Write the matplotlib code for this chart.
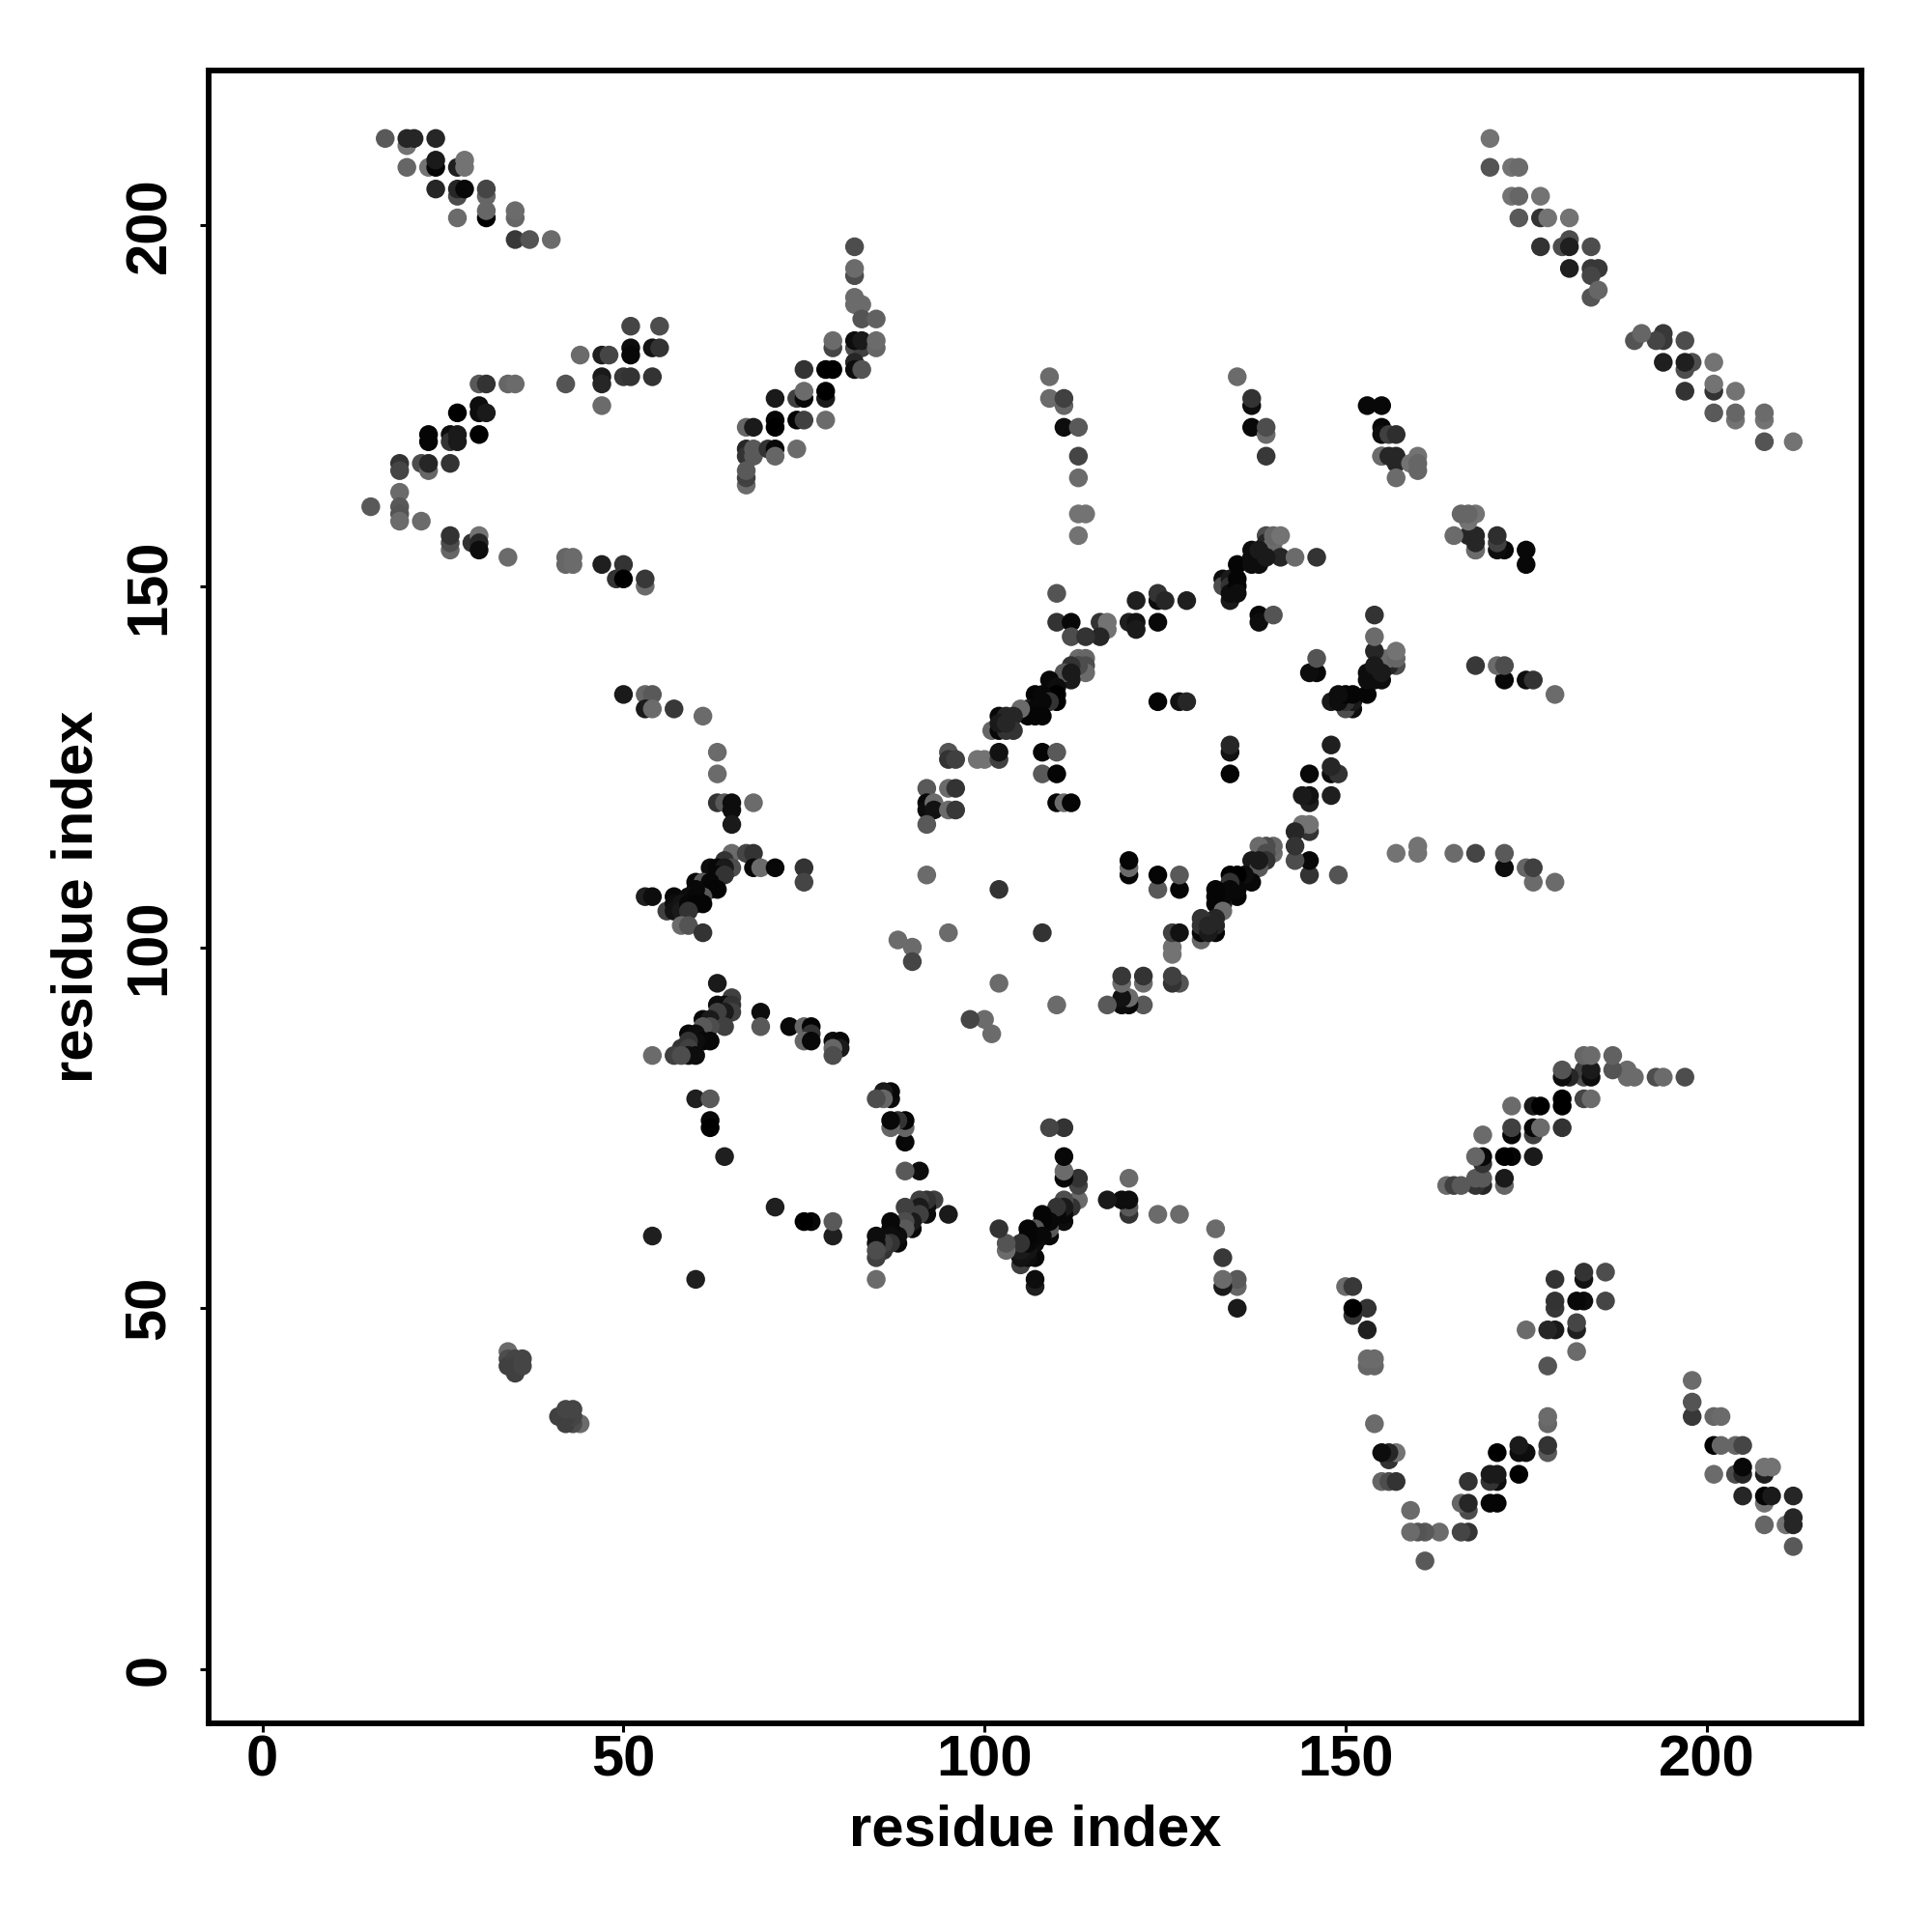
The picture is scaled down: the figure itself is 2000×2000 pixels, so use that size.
import matplotlib
matplotlib.use("Agg")
import matplotlib.pyplot as plt
import numpy as np

res_a = [
 17,20,20,21,24,20,23,24,24,27,28,28,24,27,27,28,31,31,31,31,27,35,35,35,37,40,
 51,55,44,47,48,51,51,54,55,30,31,34,35,42,47,47,50,51,54,47,
 27,30,30,31,23,23,26,26,27,27,30,19,19,22,23,23,26,
 19,19,19,19,15,22,26,26,26,29,30,30,30,34,42,42,43,43,47,50,49,50,53,53,
 82,82,82,82,82,83,83,85,79,79,82,83,82,83,85,85,75,78,79,82,82,83,
 71,74,75,75,78,78,71,71,74,75,78,67,68,67,67,68,68,70,71,71,74,67,67,67,
 109,109,111,111,111,113,113,113,113,114,113,110,110,112,116,117,117,116,112,114,
 121,124,124,125,128,120,121,121,124,135,137,137,137,139,139,139,
 133,133,134,134,134,134,135,135,135,135,137,137,138,138,137,139,139,140,140,140,141,141,143,146,138,139,
 138,138,140,153,155,155,155,155,156,157,155,156,157,157,157,159,160,160,160,
 113,114,114,114,113,113,112,112,111,112,109,110,110,110,107,108,109,108,106,107,108,107,106,105,
 102,103,104,101,102,103,104,102,103,95,95,96,99,100,102,102,108,110,108,110,
 92,95,96,92,92,93,93,95,96,92,110,111,112,124,127,128,92,102,
 50,53,54,53,54,57,61,63,63,63,64,65,65,65,68,65,67,68,64,65,68,69,71,75,75,
 62,63,64,63,64,60,61,62,63,62,61,60,53,54,57,59,60,56,57,57,58,58,59,60,61,59,58,59,61,88,90,90,95,
 63,65,64,63,65,65,64,63,61,62,64,62,61,59,60,61,62,60,59,58,59,59,60,57,58,54,69,69,
 73,75,76,76,75,76,79,80,80,79,79,60,62,62,62,64,54,
 170,170,173,174,173,174,177,174,177,178,181,177,180,181,181,184,181,184,185,184,184,185,
 34,34,34,35,35,35,36,36,
]
res_b = [
 212,211,212,212,212,208,208,208,209,208,209,208,205,204,205,205,204,205,201,202,201,201,202,198,198,198,
 186,186,182,182,182,183,182,183,183,178,178,178,178,178,179,178,179,179,179,175,
 174,175,174,174,171,170,171,170,171,170,171,167,166,167,166,167,167,
 163,161,160,159,161,159,155,156,157,156,157,156,155,154,154,153,154,153,153,153,151,151,150,151,
 197,193,194,189,190,189,187,187,183,184,183,183,184,184,183,184,180,180,180,181,180,180,
 176,176,176,177,176,177,173,172,173,173,173,172,172,169,168,169,168,169,169,168,169,164,165,166,
 179,176,175,176,172,172,168,165,160,160,157,149,145,145,145,145,144,143,143,143,
 148,148,149,148,148,145,145,144,145,179,175,176,172,171,172,168,
 151,150,151,150,148,149,151,153,150,149,155,154,154,153,153,157,156,155,156,157,157,154,154,154,155,154,
 146,145,146,175,175,172,171,168,171,171,168,168,168,167,165,167,168,167,166,
 140,140,139,138,139,139,139,137,138,138,137,136,135,134,135,135,134,134,133,133,132,132,132,133,
 132,132,132,130,130,130,130,131,131,127,126,126,126,126,126,127,127,127,124,124,
 122,122,122,120,119,120,119,119,119,117,120,120,120,134,134,134,110,108,
 135,135,135,133,133,133,132,127,124,120,120,120,119,117,120,113,113,113,112,111,111,111,111,111,109,
 111,111,111,110,110,109,109,109,108,108,107,108,107,107,107,107,107,105,106,105,106,105,106,106,106,105,103,103,102,101,100,98,102,
 95,93,92,92,92,91,91,91,90,90,89,89,89,88,88,87,87,87,87,86,86,85,85,85,85,85,91,89,
 89,89,89,88,87,87,87,87,86,86,85,79,79,76,75,71,60,
 212,208,208,208,204,204,204,201,201,201,201,197,197,198,197,197,194,194,194,193,190,191,
 44,43,42,43,42,41,43,42,
]
shade = [
 .35,.45,.15,.15,.15,.40,.45,.02,.10,.12,.45,.45,.15,.30,.15,.03,.40,.27,.00,.40,.42,.40,.42,.22,.33,.42,
 .27,.30,.42,.12,.27,.05,.03,.07,.20,.35,.20,.40,.42,.33,.10,.15,.22,.20,.20,.42,
 .00,.05,.05,.10,.02,.02,.05,.20,.10,.10,.00,.20,.27,.30,.40,.15,.20,
 .42,.35,.33,.42,.35,.42,.40,.30,.20,.20,.45,.15,.05,.42,.40,.40,.42,.42,.12,.20,.20,.00,.42,.22,
 .30,.30,.42,.42,.42,.42,.33,.38,.27,.42,.30,.25,.05,.10,.40,.42,.20,.00,.00,.15,.05,.33,
 .10,.25,.03,.42,.10,.00,.02,.00,.02,.25,.42,.40,.10,.15,.20,.35,.35,.20,.03,.40,.42,.42,.25,.35,
 .42,.42,.40,.25,.05,.35,.27,.42,.45,.45,.45,.33,.20,.03,.20,.45,.45,.15,.30,.20,
 .12,.05,.20,.15,.12,.12,.07,.10,.03,.42,.05,.20,.03,.42,.30,.22,
 .05,.30,.10,.20,.10,.05,.02,.02,.02,.05,.05,.05,.05,.05,.05,.30,.15,.45,.42,.40,.45,.15,.42,.20,.10,.10,
 .03,.05,.33,.03,.03,.03,.05,.35,.25,.18,.42,.15,.15,.15,.42,.45,.45,.40,.40,
 .42,.40,.30,.42,.30,.30,.20,.10,.35,.10,.03,.05,.00,.00,.02,.03,.20,.03,.10,.03,.02,.02,.02,.42,
 .03,.15,.15,.40,.03,.20,.20,.10,.15,.33,.20,.25,.45,.45,.25,.07,.02,.35,.35,.02,
 .35,.42,.20,.03,.05,.42,.07,.42,.22,.35,.02,.42,.02,.02,.07,.15,.42,.20,
 .10,.40,.35,.10,.42,.22,.42,.42,.42,.20,.35,.05,.05,.10,.42,.42,.27,.20,.20,.30,.03,.42,.03,.20,.27,
 .05,.03,.10,.03,.20,.03,.35,.03,.02,.02,.35,.03,.12,.05,.03,.05,.03,.25,.05,.07,.08,.10,.03,.02,.02,.20,.42,.33,.20,.42,.42,.27,.42,
 .10,.25,.05,.05,.20,.25,.10,.25,.03,.10,.25,.30,.35,.03,.05,.03,.03,.05,.20,.20,.25,.07,.05,.25,.30,.42,.05,.35,
 .03,.40,.02,.20,.40,.03,.05,.03,.10,.40,.30,.12,.35,.03,.00,.12,.12,
 .45,.33,.45,.42,.45,.40,.45,.35,.20,.45,.45,.20,.30,.30,.12,.30,.12,.22,.22,.27,.33,.40,
 .42,.30,.25,.27,.25,.25,.27,.27,
]
xticks = [0, 50, 100, 150, 200]
yticks = [0, 50, 100, 150, 200]
axis_label = "residue index"

assert len(res_a) == len(res_b) == len(shade), (len(res_a), len(res_b), len(shade))

plt.rcParams['font.family'] = ['Liberation Sans', 'DejaVu Sans']
plt.rcParams['font.weight'] = 'bold'

fig = plt.figure(figsize=(10, 10), dpi=200, facecolor='white')
ax = fig.add_axes([216/2000, 1-1784/2000, (1927-216)/2000, (1784-73)/2000])

a = np.array(res_a); b = np.array(res_b); g = np.array(shade)
x = np.concatenate([a, b]); y = np.concatenate([b, a]); c = np.concatenate([g, g])
ax.scatter(x, y, s=49, c=[str(v) for v in c], linewidths=0, zorder=3)

ax.set_xlim(-7.45, 221.45)
ax.set_ylim(-7.49, 221.41)
ax.set_xticks(xticks); ax.set_yticks(yticks)
ax.tick_params(axis='both', length=3.2, width=1.1, labelsize=21.5, color='black')
ax.tick_params(axis='x', pad=1)
ax.tick_params(axis='y', pad=8.7)
for t in ax.get_yticklabels():
    t.set_rotation(90); t.set_va('center')
for s in ax.spines.values():
    s.set_linewidth(2.1)
ax.set_xlabel(axis_label, fontsize=21.5, fontweight='bold', va='center')
ax.set_ylabel(axis_label, fontsize=21.5, fontweight='bold', va='center')
ax.xaxis.set_label_coords(0.5, -0.0646)
ax.yaxis.set_label_coords(-0.0795, 0.5)
fig.savefig('out.png', dpi=200, facecolor='white')
